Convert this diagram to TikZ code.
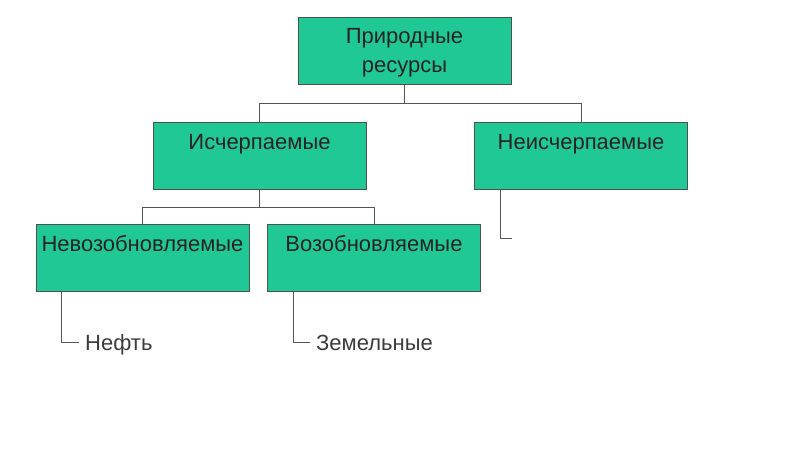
\documentclass[tikz,border=0pt]{standalone}
\usepackage{fontspec}
\setmainfont{Liberation Sans}
\definecolor{boxfill}{RGB}{32,200,150}
\definecolor{boxline}{RGB}{80,80,80}
\definecolor{conn}{RGB}{85,85,85}
\definecolor{boxtext}{RGB}{35,35,35}
\definecolor{leaftext}{RGB}{60,60,60}
\begin{document}
\begin{tikzpicture}[x=1pt,y=-1pt,
  box/.style={draw=boxline,fill=boxfill,line width=0.8pt,inner sep=0pt,
    minimum width=213pt,text height=27pt,text depth=40pt,
    font=\fontsize{22}{28}\selectfont,text=boxtext},
  rootbox/.style={draw=boxline,fill=boxfill,line width=0.8pt,inner sep=0pt,
    minimum width=213pt,text height=26pt,text depth=41pt,
    font=\fontsize{22}{29}\selectfont,text=boxtext},
  leaf/.style={anchor=west,inner sep=6pt,text height=16pt,text depth=0pt,
    font=\fontsize{22}{28}\selectfont,text=leaftext},
  conn/.style={draw=conn,line width=0.8pt}]
\useasboundingbox (0,0) rectangle (800,450);
\node[rootbox,anchor=north] (root) at (404.5,17) {\begin{tabular}[t]{@{}c@{}}Природные\\ресурсы\end{tabular}};
\node[box,anchor=north] (isch) at (259.5,122) {Исчерпаемые};
\node[box,anchor=north] (neisch) at (581,122) {Неисчерпаемые};
\node[box,anchor=north] (nevoz) at (142.5,224) {Невозобновляемые};
\node[box,anchor=north] (voz) at (374,224) {Возобновляемые};
\node[leaf] (neft) at (79,342) {Нефть};
\node[leaf] (zem) at (310,342) {Земельные};
\coordinate (nend) at (512,238);
\draw[conn] (root.south) -- ++(0,19) -| (isch.north);
\draw[conn] (root.south) -- ++(0,19) -| (neisch.north);
\draw[conn] (isch.south) -- ++(0,18) -| (nevoz.north);
\draw[conn] (isch.south) -- ++(0,18) -| (voz.north);
\draw[conn] ([xshift=26pt]nevoz.south west) |- (neft.west);
\draw[conn] ([xshift=26pt]voz.south west) |- (zem.west);
\draw[conn] ([xshift=26pt]neisch.south west) |- (nend);
\end{tikzpicture}
\end{document}
